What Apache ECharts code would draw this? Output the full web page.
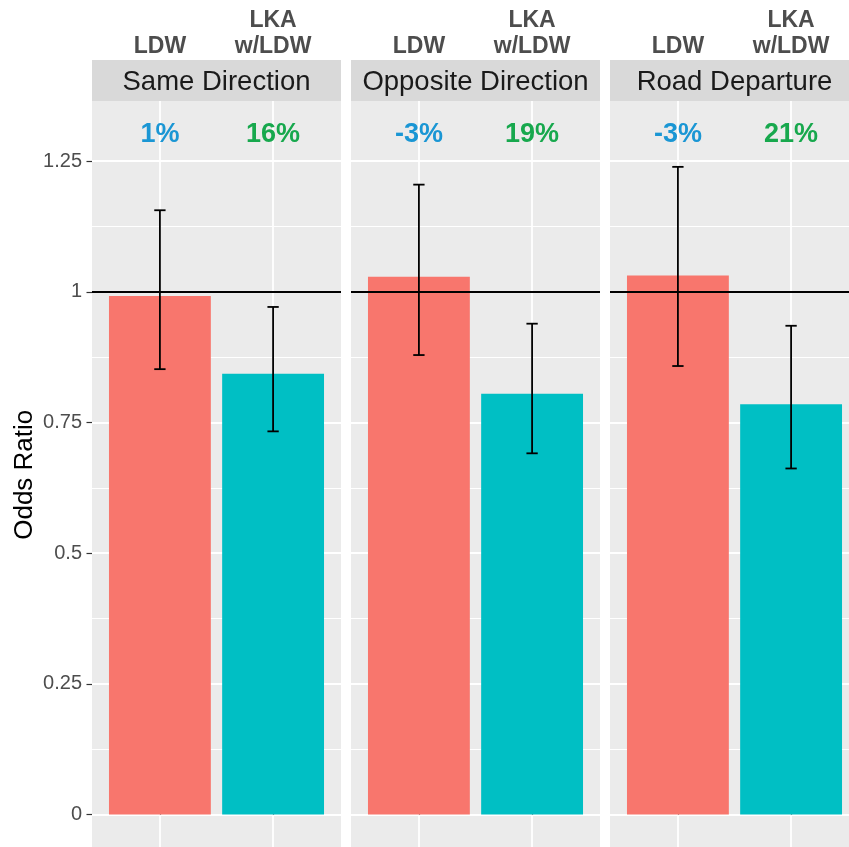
<!DOCTYPE html>
<html><head><meta charset="utf-8">
<script src="https://cdn.jsdelivr.net/npm/echarts@6/dist/echarts.min.js"></script>
<style>html,body{margin:0;padding:0;background:#fff}#c{width:849px;height:847px}</style>
</head><body><div id="c"></div>
<script>
// ---- data ----
const facets = ["Same Direction", "Opposite Direction", "Road Departure"];
const groups = ["LDW", "LKA\nw/LDW"];
const ldwOR = [0.992, 1.029, 1.031];
const ldwLow = [0.852, 0.879, 0.858];
const ldwHigh = [1.156, 1.205, 1.239];
const lkaOR = [0.843, 0.805, 0.785];
const lkaLow = [0.733, 0.691, 0.662];
const lkaHigh = [0.971, 0.939, 0.935];
const ldwPct = ["1%", "-3%", "-3%"];
const lkaPct = ["16%", "19%", "21%"];
const yTicks = [0, 0.25, 0.5, 0.75, 1, 1.25];
const yMinorTicks = [0.125, 0.375, 0.625, 0.875, 1.125];
const refValue = 1;
const labelValue = 1.3;

// ---- layout / style ----
const FONT = "'Liberation Sans', Arial, sans-serif";
const panelLeft = [92, 351, 610];
const panelW = 249;
const panelTop = 101;
const panelH = 747.5;
const stripH = 41;
const yMin = -0.065, yMax = 1.365;
const xMin = 0.4, xMax = 2.6;
const barColors = ["#F8766D", "#00BFC4"];
const pctColors = ["#1A96D4", "#17A84D"];

const chart = echarts.init(document.getElementById('c'), null, {renderer: 'canvas'});

const grids = panelLeft.map(l => ({left: l, top: panelTop, width: panelW, height: panelH,
  outerBoundsMode: 'none', containLabel: false,
  show: true, backgroundColor: '#EBEBEB', borderWidth: 0}));

const xAxes = facets.map((f, i) => ({
  type: 'value', gridIndex: i, min: xMin, max: xMax, position: 'top', offset: stripH,
  axisLine: {show: false},
  axisTick: {show: true, customValues: [1, 2], length: 4, lineStyle: {color: '#333', width: 1.2}},
  axisLabel: {customValues: [1, 2], formatter: v => groups[Math.round(v) - 1],
    fontFamily: FONT, fontSize: 23, fontWeight: 'bold', color: '#4D4D4D', margin: 0, lineHeight: 26},
  splitLine: {show: true, lineStyle: {color: '#fff', width: 1.8}}
}));

const yMain = facets.map((f, i) => ({
  type: 'value', gridIndex: i, min: yMin, max: yMax,
  axisLine: {show: false},
  axisTick: {show: i === 0, customValues: yTicks, length: 5.5, lineStyle: {color: '#333', width: 1.2}},
  axisLabel: {show: i === 0, customValues: yTicks, fontFamily: FONT, fontSize: 20, color: '#4D4D4D', margin: 10},
  splitLine: {show: true, lineStyle: {color: '#fff', width: 1.8}},
  name: i === 0 ? 'Odds Ratio' : '', nameLocation: 'middle', nameGap: 54, nameRotate: 90,
  nameTextStyle: {fontFamily: FONT, fontSize: 26, color: '#000'}
}));
const yMinor = facets.map((f, i) => ({
  type: 'value', gridIndex: i, min: yMin, max: yMax, position: 'left',
  axisLine: {show: false},
  axisTick: {show: false, customValues: yMinorTicks},
  axisLabel: {show: false, customValues: yMinorTicks},
  splitLine: {show: true, lineStyle: {color: '#fff', width: 1}}
}));

const series = [];
facets.forEach((f, i) => {
  series.push({
    type: 'custom', xAxisIndex: i, yAxisIndex: i, z: 2,
    data: [[1, ldwOR[i], 0], [2, lkaOR[i], 1]],
    renderItem: (params, api) => {
      const x = api.value(0), y = api.value(1), k = api.value(2);
      const p0 = api.coord([x - 0.45, 0]);
      const p1 = api.coord([x + 0.45, y]);
      return {type: 'rect', shape: {x: p0[0], y: p1[1], width: p1[0] - p0[0], height: p0[1] - p1[1]},
        style: {fill: barColors[k]}};
    },
    markLine: {silent: true, symbol: 'none', label: {show: false}, animation: false,
      lineStyle: {color: '#000', width: 1.8, type: 'solid'}, data: [{yAxis: refValue}]}
  });
  series.push({
    type: 'custom', xAxisIndex: i, yAxisIndex: i, z: 4,
    data: [[1, ldwLow[i], ldwHigh[i]], [2, lkaLow[i], lkaHigh[i]]],
    renderItem: (params, api) => {
      const x = api.value(0);
      const lo = api.coord([x, api.value(1)]);
      const hi = api.coord([x, api.value(2)]);
      const cl = api.coord([x - 0.05, api.value(1)])[0];
      const cr = api.coord([x + 0.05, api.value(1)])[0];
      const st = {stroke: '#000', lineWidth: 1.8};
      return {type: 'group', children: [
        {type: 'line', shape: {x1: lo[0], y1: lo[1], x2: hi[0], y2: hi[1]}, style: st},
        {type: 'line', shape: {x1: cl, y1: lo[1], x2: cr, y2: lo[1]}, style: st},
        {type: 'line', shape: {x1: cl, y1: hi[1], x2: cr, y2: hi[1]}, style: st}
      ]};
    }
  });
  const pcts = [ldwPct[i], lkaPct[i]];
  series.push({
    type: 'custom', xAxisIndex: i, yAxisIndex: i, z: 5,
    data: [[1, labelValue, 0], [2, labelValue, 1]],
    renderItem: (params, api) => {
      const k = api.value(2);
      const p = api.coord([api.value(0), api.value(1)]);
      return {type: 'text', x: p[0], y: p[1], style: {text: pcts[k], align: 'center', verticalAlign: 'middle',
        fontFamily: FONT, fontSize: 27, fontWeight: 'bold', fill: pctColors[k]}};
    }
  });
});

const graphic = [];
facets.forEach((f, i) => {
  graphic.push({type: 'rect', silent: true, z: 0,
    shape: {x: panelLeft[i], y: panelTop - stripH, width: panelW, height: stripH}, style: {fill: '#D9D9D9'}});
  graphic.push({type: 'text', silent: true, z: 1, x: panelLeft[i] + panelW / 2, y: panelTop - stripH / 2 + 2,
    style: {text: f, align: 'center', verticalAlign: 'middle', fontFamily: FONT, fontSize: 27.5, fill: '#1A1A1A'}});
});

chart.setOption({
  animation: false,
  backgroundColor: '#fff',
  grid: grids,
  xAxis: xAxes,
  yAxis: yMain.concat(yMinor),
  series: series,
  graphic: graphic
});
</script>
</body></html>
